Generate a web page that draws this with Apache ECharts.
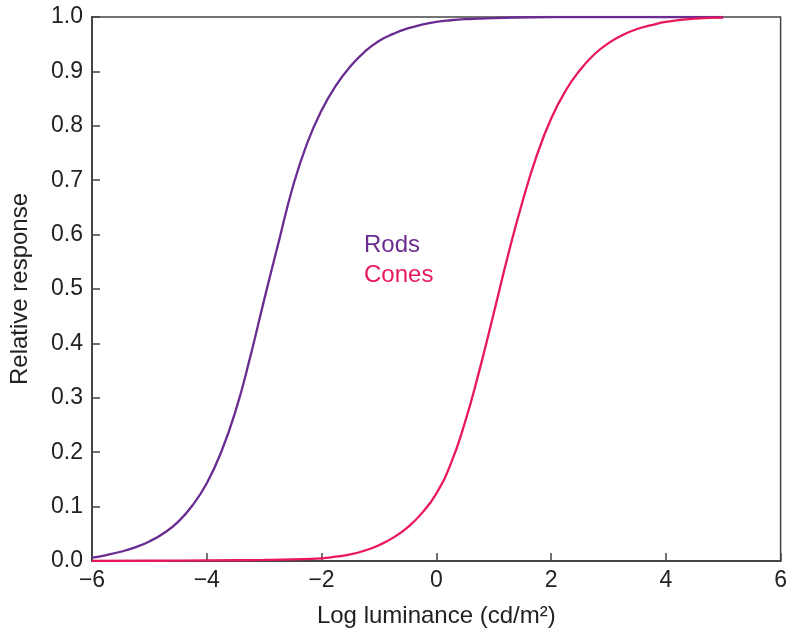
<!DOCTYPE html>
<html><head><meta charset="utf-8">
<script src="https://cdn.jsdelivr.net/npm/echarts@6/dist/echarts.min.js"></script>
<style>html,body{margin:0;padding:0;background:#fff}#c{width:790px;height:633px}</style>
</head><body><div id="c"></div>
<script>
var rodsX = [-6, -5.75, -5.5, -5.25, -5, -4.75, -4.5, -4.25, -4, -3.75, -3.5, -3.25, -3, -2.75, -2.5, -2.25, -2, -1.75, -1.5, -1.25, -1, -0.75, -0.5, -0.25, 0, 0.25, 0.5, 0.75, 1, 2, 3, 4, 5];
var rodsY = [0.006, 0.011, 0.017, 0.025, 0.036, 0.051, 0.072, 0.102, 0.143, 0.2, 0.275, 0.372, 0.48, 0.585, 0.688, 0.768, 0.828, 0.874, 0.909, 0.936, 0.956, 0.969, 0.979, 0.986, 0.991, 0.994, 0.996, 0.997, 0.998, 1.0, 1.0, 1.0, 1.0];
var conesX = [-6, -5, -4, -3, -2.5, -2, -1.75, -1.5, -1.25, -1, -0.75, -0.5, -0.25, 0, 0.25, 0.5, 0.75, 1, 1.25, 1.5, 1.75, 2, 2.25, 2.5, 2.75, 3, 3.25, 3.5, 3.75, 4, 4.5, 5];
var conesY = [0.0, 0.0005, 0.001, 0.002, 0.003, 0.005, 0.008, 0.012, 0.019, 0.029, 0.043, 0.062, 0.088, 0.124, 0.178, 0.255, 0.35, 0.455, 0.562, 0.66, 0.745, 0.813, 0.864, 0.902, 0.931, 0.952, 0.967, 0.978, 0.985, 0.991, 0.997, 0.999];
var seriesNames = ['Rods', 'Cones'];
var seriesColors = ['#6a2c91', '#e8185a'];

function pairs(xs, ys) { return xs.map(function (x, i) { return [x, ys[i]]; }); }

var chart = echarts.init(document.getElementById('c'));
var font = 'Liberation Sans, Arial, Helvetica, sans-serif';
chart.setOption({
  animation: false,
  backgroundColor: '#fff',
  grid: { left: 92, right: 8, top: 17, bottom: 72, show: true, borderColor: '#444', borderWidth: 1.5 },
  xAxis: {
    type: 'value', min: -6, max: 6, interval: 2,
    name: 'Log luminance (cd/m²)', nameLocation: 'middle', nameGap: 43,
    nameTextStyle: { fontFamily: font, fontSize: 24, color: '#222' },
    axisLine: { show: true, onZero: false, lineStyle: { color: '#444', width: 2 } },
    axisTick: { show: true, inside: true, length: 8, lineStyle: { color: '#444', width: 1.5 } },
    axisLabel: { fontFamily: font, fontSize: 23, color: '#222', margin: 8,
      formatter: function (v) { return String(v).replace('-', '\u2212'); } },
    splitLine: { show: false }
  },
  yAxis: {
    type: 'value', min: 0, max: 1, interval: 0.1,
    name: 'Relative response', nameLocation: 'middle', nameGap: 60,
    nameTextStyle: { fontFamily: font, fontSize: 24, color: '#222' },
    axisLine: { show: true, onZero: false, lineStyle: { color: '#444', width: 2 } },
    axisTick: { show: true, inside: true, length: 8, lineStyle: { color: '#444', width: 1.5 } },
    axisLabel: { fontFamily: font, fontSize: 23, color: '#222', margin: 9,
      formatter: function (v) { return v.toFixed(1); } },
    splitLine: { show: false }
  },
  graphic: [
    { type: 'text', left: 364, top: 233, style: { text: seriesNames[0], fill: seriesColors[0], font: '24px ' + font } },
    { type: 'text', left: 364, top: 263, style: { text: seriesNames[1], fill: seriesColors[1], font: '24px ' + font } }
  ],
  series: [
    { name: seriesNames[0], type: 'line', smooth: 0.5, showSymbol: false, data: pairs(rodsX, rodsY),
      lineStyle: { color: seriesColors[0], width: 2.3 }, itemStyle: { color: seriesColors[0] } },
    { name: seriesNames[1], type: 'line', smooth: 0.5, showSymbol: false, data: pairs(conesX, conesY),
      lineStyle: { color: seriesColors[1], width: 2.3 }, itemStyle: { color: seriesColors[1] } }
  ]
});
</script></body></html>
